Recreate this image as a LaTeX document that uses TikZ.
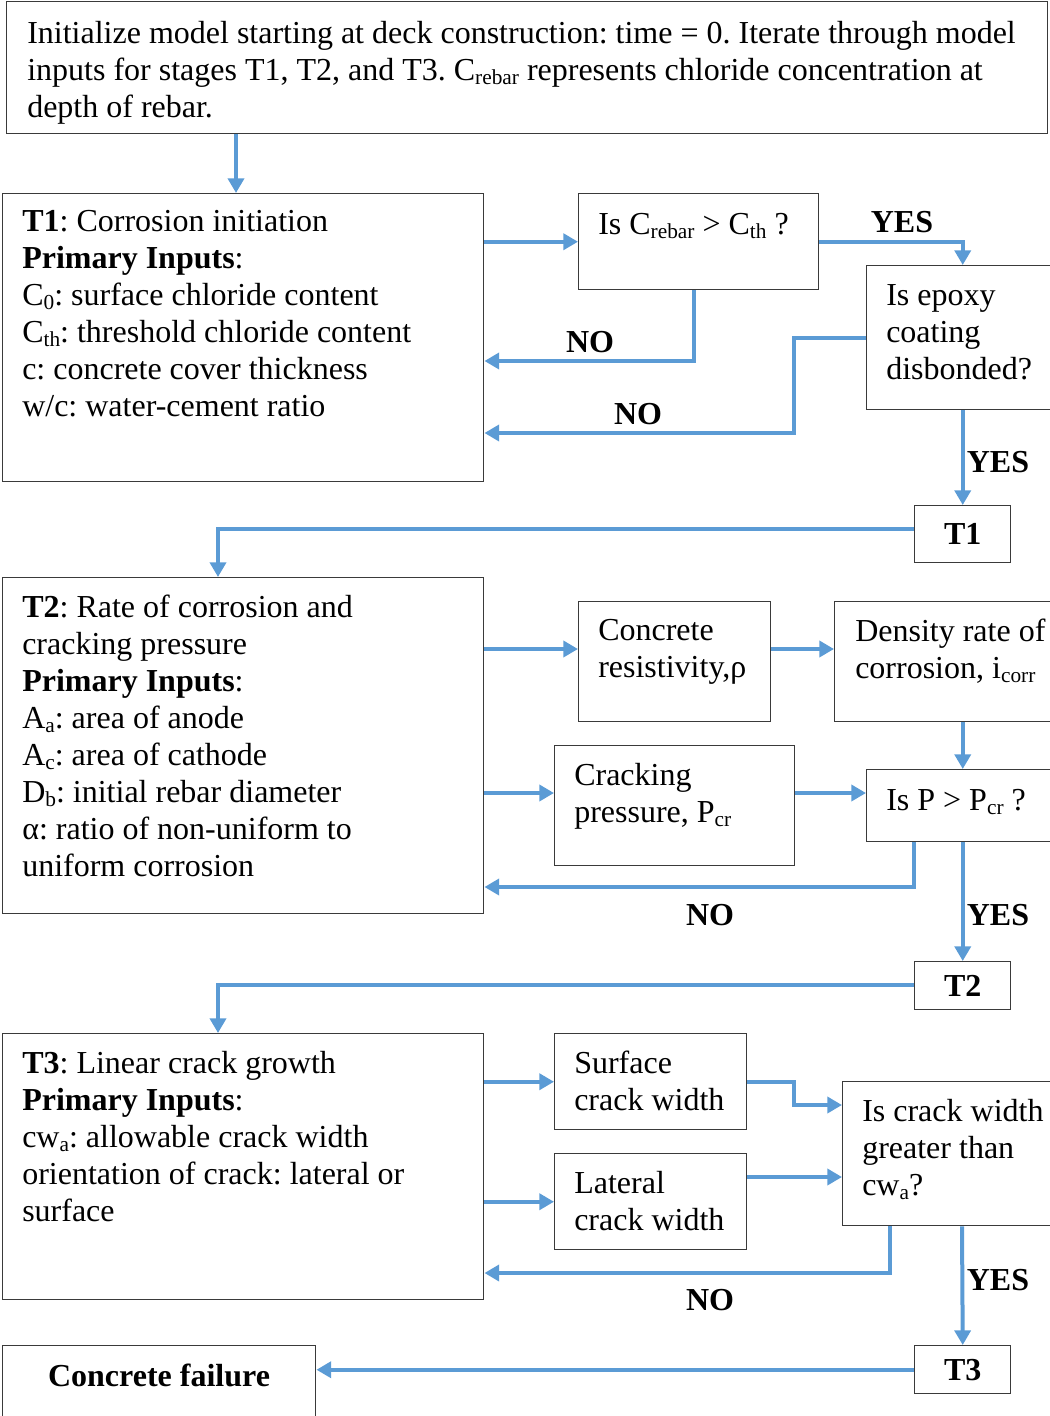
\documentclass[tikz,border=0pt]{standalone}
\usepackage{fontspec}
\setmainfont{Liberation Serif}
\usetikzlibrary{arrows.meta,calc}
\definecolor{fblue}{HTML}{5B9BD5}
\definecolor{edgec}{HTML}{3A3A3A}
\newcommand{\lsub}[1]{\raisebox{-0.12em}{\fontsize{16}{16}\selectfont #1}}
\tikzset{
 box/.style 2 args={draw=edgec, line width=1.1pt, rectangle, inner sep=0pt, anchor=north west, minimum width=#1*0.75pt, minimum height=#2*0.75pt, font=\fontsize{24}{27.75}\selectfont\bfseries},
 txt/.style={anchor=north west, inner sep=0pt, align=left, font=\fontsize{24}{27.75}\selectfont},
 lbl/.style={inner sep=0pt, font=\fontsize{24}{27.75}\selectfont\bfseries},
 arr/.style={draw=fblue, line width=3pt, -{Triangle[length=11pt,width=12pt]}},
}
\frenchspacing
\begin{document}
\frenchspacing
\begin{tikzpicture}[x=0.75pt,y=-0.75pt]
\useasboundingbox (0,0) rectangle (1049,1416);
% boxes
\node[box={1041}{132}] (init) at (6,1) {};
\node[box={481}{288}] (t1) at (2,193) {};
\node[box={240}{96}] (q1) at (578,193) {};
\node[box={192}{144}] (q2) at (866,265) {};
\node[box={96}{57}] (s1) at (914,505) {T1};
\node[box={481}{336}] (t2) at (2,577) {};
\node[box={192}{120}] (cr) at (578,601) {};
\node[box={230}{120}] (dr) at (834,601) {};
\node[box={240}{120}] (cp) at (554,745) {};
\node[box={192}{72}] (q3) at (866,769) {};
\node[box={96}{48}] (s2) at (914,961) {T2};
\node[box={481}{266}] (t3) at (2,1033) {};
\node[box={192}{96}] (sw) at (554,1033) {};
\node[box={192}{96}] (lw) at (554,1153) {};
\node[box={220}{144}] (q4) at (842,1081) {};
\node[box={96}{48}] (s3) at (914,1345) {T3};
\node[box={313}{80}] (cf) at (2,1345) {};
% texts
\node[txt] (initT) at (27,21) {Initialize model starting at deck construction: time = 0. Iterate through model\\inputs for stages T1, T2, and T3. C\lsub{rebar} represents chloride concentration at\\depth of rebar.};
\node[txt] (t1T) at (22,210) {\textbf{T1}: Corrosion initiation\\\textbf{Primary Inputs}:\\C\lsub{0}: surface chloride content\\C\lsub{th}: threshold chloride content\\c: concrete cover thickness\\w/c: water-cement ratio};
\node[txt] (q1T) at (598,213) {Is C\lsub{rebar} > C\lsub{th} ?};
\node[txt] (q2T) at (886,284) {Is epoxy\\coating\\disbonded?};
\node[txt] (t2T) at (22,595) {\textbf{T2}: Rate of corrosion and\\cracking pressure\\\textbf{Primary Inputs}:\\A\lsub{a}: area of anode\\A\lsub{c}: area of cathode\\D\lsub{b}: initial rebar diameter\\α: ratio of non-uniform to\\uniform corrosion};
\node[txt] (crT) at (598,619) {Concrete\\resistivity,ρ};
\node[txt] (drT) at (855,619) {Density rate of\\corrosion, i\lsub{corr}};
\node[txt] (cpT) at (574,763) {Cracking\\pressure, P\lsub{cr}};
\node[txt] (q3T) at (886,789) {Is P > P\lsub{cr} ?};
\node[txt] (t3T) at (22,1051) {\textbf{T3}: Linear crack growth\\\textbf{Primary Inputs}:\\cw\lsub{a}: allowable crack width\\orientation of crack: lateral or\\surface};
\node[txt] (swT) at (574,1051) {Surface\\crack width};
\node[txt] (lwT) at (574,1171) {Lateral\\crack width};
\node[txt] (q4T) at (862,1099) {Is crack width\\greater than\\cw\lsub{a}?};
\node[lbl] (cfT) at (159,1375) {Concrete failure};
% labels
\node[lbl] (yes1) at (902,222) {YES};
\node[lbl] (no1) at (590,342) {NO};
\node[lbl] (no2) at (638,414) {NO};
\node[lbl] (yes2) at (998,462) {YES};
\node[lbl] (no3) at (710,915) {NO};
\node[lbl] (yes3) at (998,915) {YES};
\node[lbl] (no4) at (710,1300) {NO};
\node[lbl] (yes4) at (998,1280) {YES};
% coordinates
\coordinate (a0) at (236,0);
\coordinate (c1) at (694,361);
\coordinate (c2) at (794,433);
\coordinate (c3) at (218,529);
\coordinate (c5) at (218,985);
\coordinate (y1) at (0,649);
\coordinate (y2) at (0,793);
\coordinate (c4) at (914,887);
\coordinate (c6) at (794,1105);
\coordinate (y5) at (0,1177);
\coordinate (c7) at (890,1273);
\coordinate (x9) at (962,0);
% connectors
\draw[arr] (a0 |- init.south) -- (a0 |- t1.north);
\draw[arr] (t1.east |- q1.west) -- (q1.west);
\draw[arr] (q1.east) -| (q2.north);
\draw[arr] (c1 |- q1.south) -- (c1) -- (c1 -| t1.east);
\draw[arr] (q2.west) -| (c2) -- (c2 -| t1.east);
\draw[arr] (q2.south) -- (s1.north);
\draw[arr] (s1.west |- c3) -- (c3) -- (c3 |- t2.north);
\draw[arr] (t2.east |- y1) -- (cr.west |- y1);
\draw[arr] (cr.east |- y1) -- (dr.west |- y1);
\draw[arr] (dr.south -| q3.north) -- (q3.north);
\draw[arr] (t2.east |- y2) -- (cp.west |- y2);
\draw[arr] (cp.east |- y2) -- (q3.west |- y2);
\draw[arr] (c4 |- q3.south) -- (c4) -- (c4 -| t2.east);
\draw[arr] (q3.south) -- (s2.north);
\draw[arr] (s2.west |- c5) -- (c5) -- (c5 |- t3.north);
\draw[arr] (t3.east |- sw.west) -- (sw.west);
\draw[arr] (t3.east |- lw.west) -- (lw.west);
\draw[arr] (sw.east) -| (c6) -- (c6 -| q4.west);
\draw[arr] (lw.east |- y5) -- (q4.west |- y5);
\draw[arr] (c7 |- q4.south) -- (c7) -- (c7 -| t3.east);
\draw[arr] (x9 |- q4.south) -- (s3.north);
\draw[arr] (s3.west) -- (s3.west -| cf.east);
\end{tikzpicture}
\end{document}
